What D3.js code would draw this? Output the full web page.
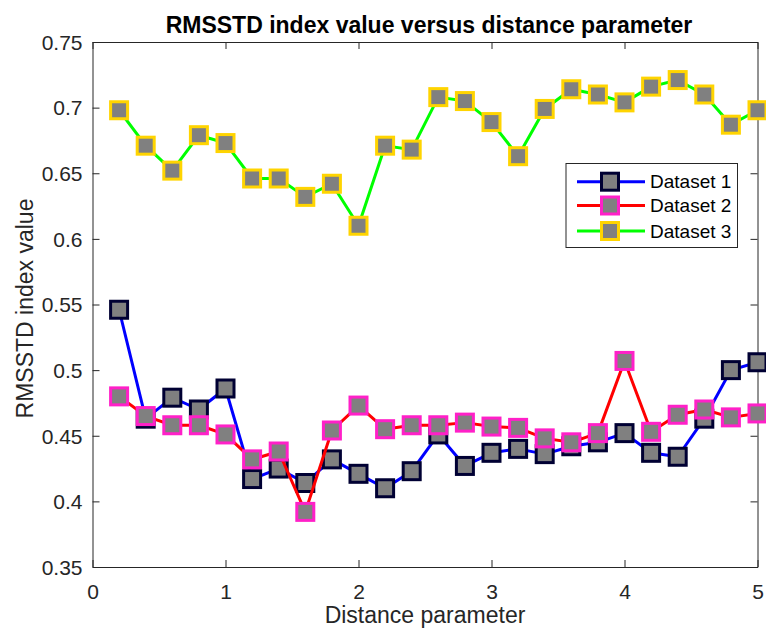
<!DOCTYPE html>
<html>
<head>
<meta charset="utf-8">
<script src="https://cdn.jsdelivr.net/npm/d3@7"></script>
<style>
  html, body { margin: 0; padding: 0; background: #fff; }
  svg { display: block; font-family: "Liberation Sans", Arial, Helvetica, sans-serif; }
</style>
</head>
<body>
<svg id="chart" width="766" height="632"></svg>
<script>
const distance = [0.2, 0.4, 0.6, 0.8, 1.0, 1.2, 1.4, 1.6, 1.8, 2.0, 2.2, 2.4, 2.6, 2.8, 3.0, 3.2, 3.4, 3.6, 3.8, 4.0, 4.2, 4.4, 4.6, 4.8, 5.0];
const dataset1 = [0.546, 0.463, 0.479, 0.470, 0.486, 0.417, 0.425, 0.414, 0.432, 0.421, 0.410, 0.423, 0.451, 0.427, 0.437, 0.440, 0.436, 0.442, 0.445, 0.452, 0.437, 0.434, 0.463, 0.500, 0.506];
const dataset2 = [0.480, 0.465, 0.458, 0.458, 0.451, 0.432, 0.438, 0.392, 0.454, 0.473, 0.455, 0.458, 0.458, 0.460, 0.457, 0.456, 0.448, 0.445, 0.452, 0.507, 0.453, 0.466, 0.470, 0.464, 0.467];
const dataset3 = [0.698, 0.671, 0.652, 0.679, 0.673, 0.646, 0.646, 0.632, 0.642, 0.610, 0.671, 0.668, 0.708, 0.705, 0.689, 0.663, 0.699, 0.714, 0.710, 0.704, 0.716, 0.721, 0.710, 0.687, 0.698];
const seriesNames = ["Dataset 1", "Dataset 2", "Dataset 3"];
const xTicks = [0, 1, 2, 3, 4, 5];
const yTicks = [0.35, 0.4, 0.45, 0.5, 0.55, 0.6, 0.65, 0.7, 0.75];
const yTickLabels = ["0.35", "0.4", "0.45", "0.5", "0.55", "0.6", "0.65", "0.7", "0.75"];
const titleText = "RMSSTD index value versus distance parameter";
const xLabelText = "Distance parameter";
const yLabelText = "RMSSTD index value";

const styles = [
  { line: "#0000ff", edge: "#000033" },
  { line: "#ff0000", edge: "#ff20c8" },
  { line: "#00ff00", edge: "#ffd400" }
];
const allSeries = [dataset1, dataset2, dataset3];

const svg = d3.select("#chart");
const L = 92.5, R = 757.5, T = 42, B = 567;
const x = d3.scaleLinear().domain([0, 5]).range([L, R]);
const y = d3.scaleLinear().domain([0.35, 0.75]).range([B, T]);
const axisColor = "#262626";

// axes
const gx = svg.append("g").attr("transform", `translate(0,${B})`)
  .call(d3.axisBottom(x).tickValues(xTicks).tickFormat(d3.format("d")).tickSizeInner(-7).tickSizeOuter(0));
const gxt = svg.append("g").attr("transform", `translate(0,${T})`)
  .call(d3.axisTop(x).tickValues(xTicks).tickFormat("").tickSizeInner(-7).tickSizeOuter(0));
const gy = svg.append("g").attr("transform", `translate(${L},0)`)
  .call(d3.axisLeft(y).tickValues(yTicks).tickFormat((d, i) => yTickLabels[i]).tickSizeInner(-7).tickSizeOuter(0));
const gyr = svg.append("g").attr("transform", `translate(${R},0)`)
  .call(d3.axisRight(y).tickValues(yTicks).tickFormat("").tickSizeInner(-7).tickSizeOuter(0));

[gx, gxt, gy, gyr].forEach(g => {
  g.selectAll(".domain").attr("stroke", axisColor).attr("stroke-width", 1);
  g.selectAll(".tick line").attr("stroke", axisColor).attr("stroke-width", 1);
  g.selectAll("text").attr("fill", axisColor).style("font-size", "21px").style("font-family", "Liberation Sans, Arial, sans-serif");
});
gx.selectAll(".tick text").attr("y", 32).attr("dy", 0);
gy.selectAll(".tick text").attr("x", -10).attr("dy", "0.35em");

// series
allSeries.forEach((vals, si) => {
  const pts = distance.map((d, i) => [d, vals[i]]);
  const g = svg.append("g");
  g.append("path")
    .datum(pts)
    .attr("fill", "none")
    .attr("stroke", styles[si].line)
    .attr("stroke-width", 3)
    .attr("stroke-linejoin", "round")
    .attr("d", d3.line().x(p => x(p[0])).y(p => y(p[1])));
  g.selectAll("rect").data(pts).enter().append("rect")
    .attr("x", p => x(p[0]) - 8.5)
    .attr("y", p => y(p[1]) - 8.5)
    .attr("width", 17).attr("height", 17)
    .attr("fill", "#808080")
    .attr("stroke", styles[si].edge)
    .attr("stroke-width", 3);
});

// title and labels
svg.append("text").attr("x", 429).attr("y", 33)
  .attr("text-anchor", "middle").attr("font-weight", "bold").attr("font-size", 23)
  .attr("fill", "#000").text(titleText);
svg.append("text").attr("x", (L + R) / 2).attr("y", 623)
  .attr("text-anchor", "middle").attr("font-size", 23).attr("fill", axisColor).text(xLabelText);
svg.append("text").attr("transform", `translate(33,${(T + B) / 2 + 4}) rotate(-90)`)
  .attr("text-anchor", "middle").attr("font-size", 23).attr("fill", axisColor).text(yLabelText);

// legend
const lg = svg.append("g");
lg.append("rect").attr("x", 566).attr("y", 163.5).attr("width", 171.5).attr("height", 84)
  .attr("fill", "#fff").attr("stroke", axisColor).attr("stroke-width", 1);
const rowY = [181.7, 205.5, 231];
seriesNames.forEach((name, i) => {
  lg.append("line").attr("x1", 577).attr("x2", 645).attr("y1", rowY[i]).attr("y2", rowY[i])
    .attr("stroke", styles[i].line).attr("stroke-width", 3);
  lg.append("rect").attr("x", 610 - 8.5).attr("y", rowY[i] - 8.5).attr("width", 17).attr("height", 17)
    .attr("fill", "#808080").attr("stroke", styles[i].edge).attr("stroke-width", 3);
  lg.append("text").attr("x", 650).attr("y", rowY[i]).attr("dy", "0.35em")
    .attr("font-size", 19).attr("fill", "#000").text(name);
});
</script>
</body>
</html>
